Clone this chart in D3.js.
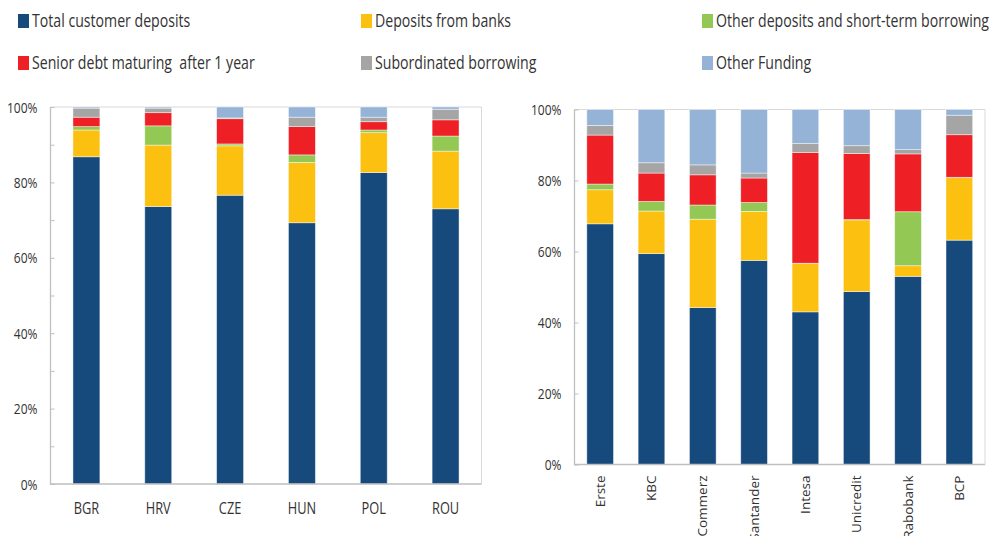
<!DOCTYPE html>
<html>
<head>
<meta charset="utf-8">
<script src="https://cdn.jsdelivr.net/npm/d3@7"></script>
<style>
  body { margin: 0; background: #fff; }
  text { font-family: "Open Sans", sans-serif; fill: #333; }
</style>
</head>
<body>
<div id="chart"></div>
<script>
var width = 991;
var height = 536;

// Series (stack order, bottom to top)
var seriesKeys = ["customer", "banks", "other", "senior", "subord", "funding"];
var seriesNames = ["Total customer deposits", "Deposits from banks", "Other deposits and short-term borrowing",
                   "Senior debt maturing  after 1 year", "Subordinated borrowing", "Other Funding"];
var seriesColors = ["#174a7c", "#fcc010", "#92c853", "#ee1f25", "#a5a5a5", "#95b3d7"];

// Left panel: countries (% of funding)
var countries = ["BGR", "HRV", "CZE", "HUN", "POL", "ROU"];
var countryCustomer = [86.8, 73.6, 76.6, 69.3, 82.6, 73.0];
var countryBanks    = [7.1, 16.3, 13.1, 16.0, 10.6, 15.3];
var countryOther    = [0.9, 5.1, 0.5, 2.0, 0.7, 4.0];
var countrySenior   = [2.5, 3.5, 6.7, 7.5, 2.2, 4.3];
var countrySubord   = [2.4, 1.2, 0.2, 2.5, 1.2, 2.8];
var countryFunding  = [0.3, 0.3, 2.9, 2.7, 2.7, 0.6];

// Right panel: banking groups
var bankNames    = ["Erste", "KBC", "Commerz", "Santander", "Intesa", "Unicredit", "Rabobank", "BCP"];
var bankCustomer = [67.8, 59.4, 44.2, 57.5, 43.0, 48.7, 53.0, 63.2];
var bankBanks    = [9.6, 12.0, 24.9, 13.8, 13.6, 20.2, 3.0, 17.6];
var bankOther    = [1.6, 2.7, 4.0, 2.5, 0.1, 0.1, 15.2, 0.1];
var bankSenior   = [13.8, 8.0, 8.5, 6.9, 31.2, 18.6, 16.3, 12.0];
var bankSubord   = [2.7, 2.9, 2.8, 1.4, 2.5, 2.2, 1.2, 5.5];
var bankFunding  = [4.5, 15.0, 15.6, 17.9, 9.6, 10.2, 11.3, 1.6];

var leftTicks = [0, 20, 40, 60, 80, 100];
var rightTicks = [0, 20, 40, 60, 80, 100];

var squeeze = 0.8; // narrow text like the original

function buildRows(cats, cols) {
    return cats.map(function(c, i) {
        var row = { cat: c };
        seriesKeys.forEach(function(k, j) { row[k] = cols[j][i]; });
        return row;
    });
}

var leftRows = buildRows(countries, [countryCustomer, countryBanks, countryOther, countrySenior, countrySubord, countryFunding]);
var rightRows = buildRows(bankNames, [bankCustomer, bankBanks, bankOther, bankSenior, bankSubord, bankFunding]);

var svg = d3.select("#chart")
    .append("svg")
    .attr("width", width)
    .attr("height", height);

// Legend
var legendPos = [[18, 14], [361, 14], [702, 14], [18, 56], [361, 56], [702, 56]];
seriesNames.forEach(function(name, i) {
    var g = svg.append("g")
        .attr("transform", "translate(" + legendPos[i][0] + "," + legendPos[i][1] + ")");
    g.append("rect")
        .attr("width", 11)
        .attr("height", 14)
        .attr("fill", seriesColors[i]);
    g.append("text")
        .attr("transform", "translate(14,13) scale(0.785,1)")
        .style("font-size", "18px")
        .style("white-space", "pre")
        .text(name);
});

var stack = d3.stack().keys(seriesKeys);

function drawPanel(rows, opt) {
    var x = d3.scaleBand()
        .domain(rows.map(function(d) { return d.cat; }))
        .range([opt.x0, opt.x1])
        .paddingInner(opt.pad)
        .paddingOuter(opt.pad / 2);

    var y = d3.scaleLinear()
        .domain([0, 100])
        .range([opt.y0, opt.y1]);

    var g = svg.append("g");

    // frame (top and right)
    g.append("path")
        .attr("d", "M" + opt.x0 + "," + y(100) + "H" + opt.x1 + "V" + y(0))
        .attr("fill", "none")
        .attr("stroke", "#d9d9d9");

    // bars
    g.selectAll("g.layer")
        .data(stack(rows))
        .enter()
        .append("g")
        .attr("class", "layer")
        .attr("fill", function(d, i) { return seriesColors[i]; })
        .selectAll("rect")
        .data(function(d) { return d; })
        .enter()
        .append("rect")
        .attr("x", function(d) { return x(d.data.cat); })
        .attr("width", x.bandwidth())
        .attr("y", function(d) { return y(d[1]); })
        .attr("height", function(d) { return y(d[0]) - y(d[1]); })
        .attr("stroke", "rgba(255,255,255,0.55)")
        .attr("stroke-width", 0.8);

    // y axis
    var yAxis = g.append("g")
        .attr("transform", "translate(" + opt.x0 + ",0)")
        .call(d3.axisRight(y).tickValues(opt.tickMarks).tickSize(4).tickFormat(""));
    yAxis.select(".domain").remove();
    yAxis.selectAll("line").attr("stroke", "#bfbfbf");

    g.selectAll("text.ylab")
        .data(opt.ticks)
        .enter()
        .append("text")
        .attr("class", "ylab")
        .attr("text-anchor", "end")
        .attr("transform", function(d) {
            return "translate(" + (opt.x0 - 13) + "," + (y(d) + 5.5) + ") scale(" + squeeze + ",1)";
        })
        .style("font-size", "15px")
        .text(function(d) { return d + "%"; });

    // axis lines
    g.append("path")
        .attr("d", "M" + opt.x0 + "," + y(100) + "V" + y(0) + "H" + opt.x1)
        .attr("fill", "none")
        .attr("stroke", "#bfbfbf")
        .attr("stroke-width", 1.3);

    // category labels
    var labels = g.selectAll("text.xlab")
        .data(rows)
        .enter()
        .append("text")
        .attr("class", "xlab");

    if (opt.rotate) {
        labels
            .attr("text-anchor", "end")
            .attr("transform", function(d) {
                return "translate(" + (x(d.cat) + x.bandwidth() / 2 + 4.5) + "," + (opt.y0 + 11) + ") rotate(-90)";
            })
            .style("font-size", "13.5px")
            .text(function(d) { return d.cat; });
    } else {
        labels
            .attr("text-anchor", "middle")
            .attr("transform", function(d) {
                return "translate(" + (x(d.cat) + x.bandwidth() / 2) + "," + (opt.y0 + 30) + ") scale(" + squeeze + ",1)";
            })
            .style("font-size", "16px")
            .text(function(d) { return d.cat; });
    }
}

drawPanel(leftRows, {
    x0: 50.5, x1: 481.5, y0: 484, y1: 107,
    pad: 0.625,
    ticks: leftTicks,
    tickMarks: d3.range(0, 101, 10),
    rotate: false
});

drawPanel(rightRows, {
    x0: 574.5, x1: 985, y0: 464.5, y1: 109.5,
    pad: 0.48,
    ticks: rightTicks,
    tickMarks: rightTicks,
    rotate: true
});
</script>
</body>
</html>
